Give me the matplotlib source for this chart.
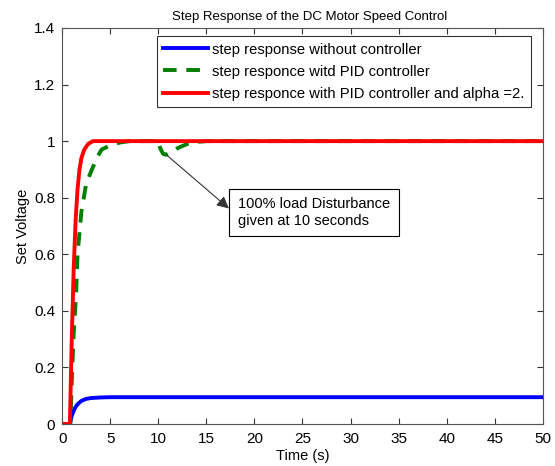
import matplotlib
matplotlib.use("Agg")
import matplotlib.pyplot as plt
import numpy as np

plt.rcParams['font.family'] = ['Liberation Sans', 'DejaVu Sans']

# Data
t_blue = [0, 0.8, 1.0, 1.3, 1.6, 2.0, 2.5, 3.0, 4.0, 5.0, 50]
y_blue = [0, 0, 0.03, 0.055, 0.07, 0.082, 0.089, 0.092, 0.094, 0.095, 0.095]

t_green = [0, 0.85, 1.0, 1.2, 1.45, 1.6, 2.0, 2.5, 3.1, 3.6, 4.1, 5.0, 6.0, 7.0, 10.0,
           10.2, 10.5, 10.8, 11.3, 12.0, 13.0, 14.0, 15.0, 50]
y_green = [0, 0, 0.15, 0.32, 0.46, 0.6, 0.75, 0.85, 0.9, 0.94, 0.97, 0.985, 0.995, 1.0, 1.0,
           0.975, 0.955, 0.952, 0.96, 0.975, 0.99, 0.997, 1.0, 1.0]

t_red = [0, 0.8, 1.0, 1.2, 1.4, 1.6, 1.8, 2.0, 2.3, 2.7, 3.2, 50]
y_red = [0, 0, 0.3, 0.55, 0.72, 0.83, 0.9, 0.94, 0.97, 0.99, 1.0, 1.0]

labels = ['step response without controller',
          'step responce witd PID controller',
          'step responce with PID controller and alpha =2.']
title = 'Step Response of the DC Motor Speed Control'
xticks = np.arange(0, 51, 5)
yticks = [0, 0.2, 0.4, 0.6, 0.8, 1, 1.2, 1.4]
ytick_labels = ['0', '0.2', '0.4', '0.6', '0.8', '1', '1.2', '1.4']

fig = plt.figure(figsize=(5.55, 4.66), dpi=100)
ax = fig.add_axes([0.112, 0.090, 0.866, 0.850])

ax.plot(t_blue, y_blue, color='#0000ff', lw=2.8, label=labels[0])
ax.plot(t_green, y_green, color='#007f00', lw=2.8, ls=(0, (3.5, 2.5)), label=labels[1])
ax.plot(t_red, y_red, color='#ff0000', lw=2.8, label=labels[2])

ax.set_xlim(0, 50)
ax.set_ylim(0, 1.4)
ax.set_xticks(xticks)
ax.set_yticks(yticks)
ax.set_yticklabels(ytick_labels)
ax.tick_params(direction='in', top=True, right=True, labelsize=11, length=4, width=0.8,
               colors='#333333', labelcolor='black')
ax.tick_params(axis='x', pad=6)
ax.tick_params(axis='y', pad=5)
for s in ax.spines.values():
    s.set_color('#555555')
    s.set_linewidth(0.8)

ax.set_xlabel('Time (s)', fontsize=10.5, labelpad=2)
ax.set_ylabel('Set Voltage', fontsize=10.5, labelpad=3)
ax.set_title(title, fontsize=9.5, pad=6, x=0.515)

leg = ax.legend(loc='upper right', bbox_to_anchor=(0.975, 0.98), fontsize=10.6,
                frameon=True, fancybox=False, edgecolor='black', handlelength=3.05,
                handletextpad=0.25, labelspacing=0.55, borderpad=0.45, borderaxespad=0)
leg.get_frame().set_linewidth(0.8)

ax.annotate('100% load Disturbance\ngiven at 10 seconds', xy=(10.9, 0.95),
            xytext=(18.3, 0.748), textcoords='data', fontsize=10.5, va='center', ha='left',
            bbox=dict(boxstyle='square,pad=0.6', fc='white', ec='black', lw=0.8),
            arrowprops=dict(arrowstyle='<|-', color='#333333', lw=0.8,
                            mutation_scale=18, shrinkA=0, shrinkB=0,
                            relpos=(-0.03, 0.5)))

fig.savefig('out.png', dpi=100)
